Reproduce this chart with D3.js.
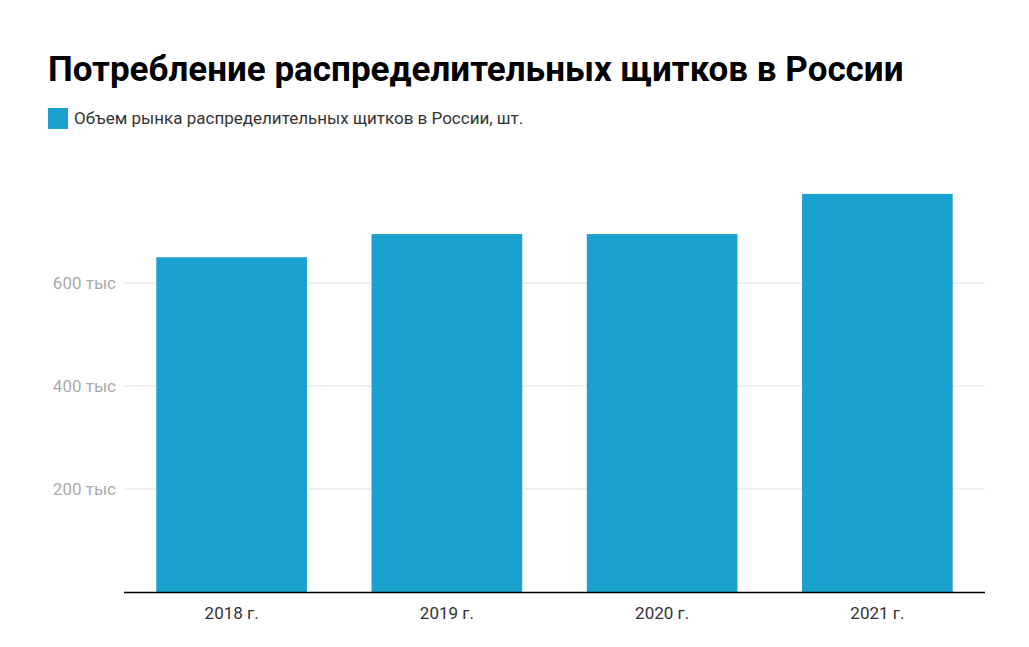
<!DOCTYPE html>
<html><head><meta charset="utf-8">
<script src="https://cdn.jsdelivr.net/npm/d3@7"></script>
<style>body{margin:0;background:#fff;font-family:Roboto,sans-serif}</style>
</head><body>
<svg id="c" width="1029" height="647"></svg>
<script>
const categories = ["2018 г.","2019 г.","2020 г.","2021 г."];
const values = [650000, 695000, 695000, 773000];
const yTicks = [200000, 400000, 600000];
const tickLabels = ["200 тыс","400 тыс","600 тыс"];
const seriesName = "Объем рынка распределительных щитков в России, шт.";
const title = "Потребление распределительных щитков в России";

const svg = d3.select("#c");
const x = d3.scaleBand().domain(categories).range([124,985]).paddingInner(0.3).paddingOuter(0.15);
const y = d3.scaleLinear().domain([0,600000]).range([592,283]);

svg.append("text").attr("x",48).attr("y",81).attr("font-size",35).attr("font-weight","bold").attr("fill","#000").text(title);
svg.append("rect").attr("x",48).attr("y",108).attr("width",20).attr("height",21).attr("fill","#1aa1ce");
svg.append("text").attr("x",74).attr("y",124).attr("font-size",17).attr("fill","#333").text(seriesName);

const g = svg.append("g");
yTicks.forEach((t,i)=>{
  g.append("line").attr("x1",124).attr("x2",985).attr("y1",y(t)).attr("y2",y(t)).attr("stroke","#e3e3e3");
  g.append("text").attr("x",116).attr("y",y(t)+6).attr("text-anchor","end").attr("font-size",17).attr("fill","#aaa").text(tickLabels[i]);
});
g.selectAll("rect.b").data(values).join("rect").attr("class","b")
  .attr("x",(d,i)=>x(categories[i])).attr("width",x.bandwidth())
  .attr("y",d=>y(d)).attr("height",d=>592-y(d)).attr("fill","#1aa1ce");
g.append("line").attr("x1",124).attr("x2",985).attr("y1",592.5).attr("y2",592.5).attr("stroke","#000").attr("stroke-width",1.5);
categories.forEach(c=>{
  g.append("text").attr("x",x(c)+x.bandwidth()/2).attr("y",619).attr("text-anchor","middle").attr("font-size",17).attr("fill","#333").text(c);
});
</script>
</body></html>
